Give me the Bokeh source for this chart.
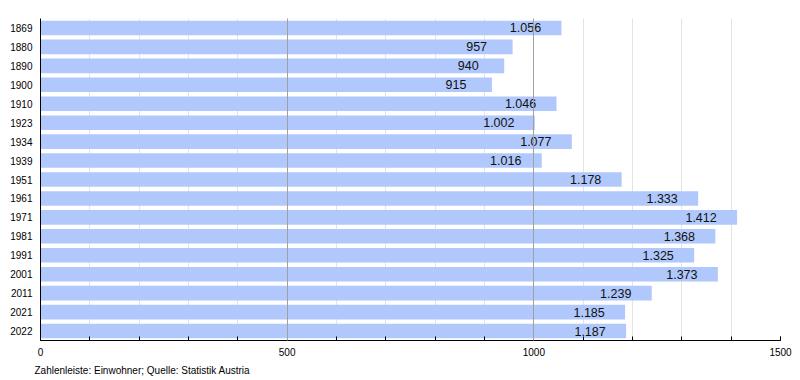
from bokeh.plotting import figure
from bokeh.models import ColumnDataSource, FactorRange, Range1d, FixedTicker, Grid, SingleIntervalTicker, Title
from bokeh.core.properties import value
from bokeh.embed import file_html
from bokeh.resources import INLINE

years = ["1869", "1880", "1890", "1900", "1910", "1923", "1934", "1939", "1951",
         "1961", "1971", "1981", "1991", "2001", "2011", "2021", "2022"]
population = [1056, 957, 940, 915, 1046, 1002, 1077, 1016, 1178,
              1333, 1412, 1368, 1325, 1373, 1239, 1185, 1187]
x_ticks = [0, 500, 1000, 1500]
footer = "Zahlenleiste: Einwohner; Quelle: Statistik Austria"

labels = ["{:,}".format(v).replace(",", ".") for v in population]
src = ColumnDataSource(dict(year=years, pop=population, label=labels))

FONT = "Liberation Sans"

p = figure(width=792, height=380, output_backend="svg", toolbar_location=None,
           y_range=FactorRange(factors=list(reversed(years))),
           x_range=Range1d(0, 1500),
           min_border_left=40, min_border_right=12, min_border_top=18, min_border_bottom=40)
p.outline_line_color = None
p.background_fill_color = "white"

p.hbar(y="year", right="pop", left=0, height=0.77, source=src,
       fill_color="#b0c8fb", line_color=None)
p.text(x="pop", y="year", text="label", source=src, x_offset=-36,
       text_align="center", text_baseline="middle",
       text_font=value(FONT), text_font_size="12.5px", text_color="#111111")

# grids
p.xgrid.visible = False
p.ygrid.visible = False
minor_grid = Grid(dimension=0, ticker=SingleIntervalTicker(interval=100),
                  grid_line_color="#e3e3e3", grid_line_width=1, level="underlay")
p.add_layout(minor_grid)
major_grid = Grid(dimension=0, ticker=FixedTicker(ticks=x_ticks),
                  grid_line_color="#a0a0a0", grid_line_width=1, level="annotation")
p.add_layout(major_grid)

xa = p.xaxis[0]
xa.ticker = FixedTicker(ticks=x_ticks, minor_ticks=list(range(0, 1501, 100)))
xa.major_tick_in = 4
xa.major_tick_out = 0
xa.minor_tick_in = 4
xa.minor_tick_out = 0
xa.axis_line_color = "black"
xa.major_tick_line_color = "black"
xa.minor_tick_line_color = "black"
xa.major_label_text_font = FONT
xa.major_label_text_font_size = "10px"
xa.major_label_text_color = "black"
xa.major_label_standoff = 7

ya = p.yaxis[0]
ya.major_tick_in = 0
ya.major_tick_out = 0
ya.minor_tick_line_color = None
ya.axis_line_color = "black"
ya.major_label_text_font = FONT
ya.major_label_text_font_size = "10px"
ya.major_label_text_color = "black"
ya.major_label_standoff = 8

t = Title(text=footer, align="left", offset=-6, text_font=FONT,
          text_font_size="10px", text_font_style="normal", text_color="black",
          standoff=9)
p.add_layout(t, "below")

open("out.html", "w").write(file_html(p, INLINE))
